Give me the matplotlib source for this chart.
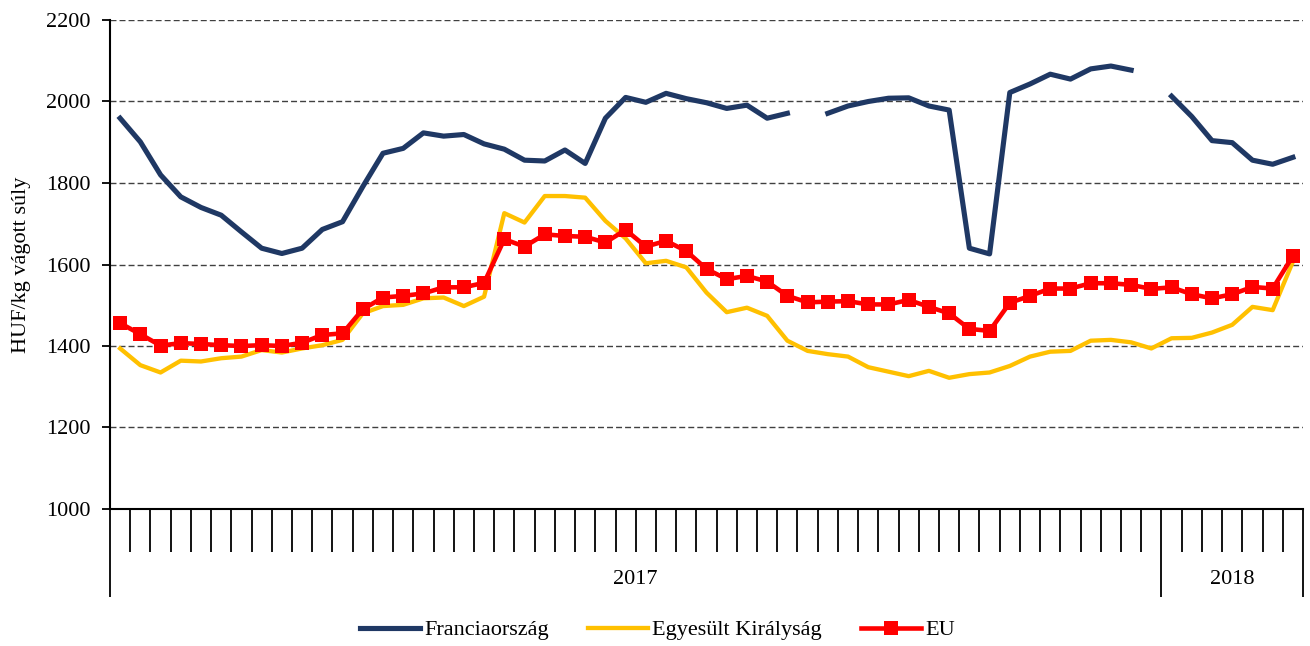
import numpy as np
import matplotlib
matplotlib.use("Agg")
import matplotlib.pyplot as plt
from matplotlib.lines import Line2D

plt.rcParams['font.family'] = ['Liberation Serif', 'DejaVu Serif']

# ---- data ----
years = ["2017"] * 52 + ["2018"] * 7
weeks = list(range(1, 53)) + list(range(1, 8))

france = [1959, 1901, 1820, 1766, 1740, 1721, 1680, 1640, 1627, 1640,
          1686, 1705, 1791, 1873, 1885, 1923, 1915, 1919, 1896, 1883,
          1856, 1854, 1881, 1848, 1959, 2010, 1998, 2020, 2007, 1997,
          1983, 1991, 1959, 1971, None, 1971, 1989, 2000, 2008, 2009,
          1989, 1979, 1640, 1626, 2022, 2043, 2067, 2055, 2080, 2087,
          2077, None, 2013, 1963, 1904, 1899, 1856, 1846, 1863]
uk = [1394, 1353, 1335, 1364, 1362, 1370, 1374, 1390, 1384, 1394,
      1402, 1415, 1480, 1498, 1501, 1517, 1519, 1498, 1521, 1726,
      1703, 1768, 1768, 1764, 1707, 1664, 1603, 1609, 1593, 1531,
      1483, 1494, 1474, 1413, 1388, 1380, 1374, 1348, 1337, 1326,
      1339, 1322, 1331, 1335, 1351, 1374, 1386, 1388, 1413, 1415,
      1409, 1394, 1419, 1420, 1433, 1452, 1496, 1488, 1607]
eu = [1456, 1429, 1401, 1407, 1405, 1402, 1400, 1402, 1400, 1408,
      1427, 1431, 1490, 1519, 1523, 1529, 1544, 1544, 1555, 1662,
      1644, 1674, 1670, 1668, 1654, 1685, 1644, 1658, 1633, 1589,
      1564, 1572, 1558, 1523, 1507, 1509, 1510, 1502, 1502, 1513,
      1496, 1480, 1442, 1437, 1506, 1523, 1541, 1541, 1554, 1554,
      1550, 1540, 1544, 1527, 1517, 1527, 1545, 1541, 1621]

series_names = ["Franciaország", "Egyesült Királyság", "EU"]
y_ticks = [1000, 1200, 1400, 1600, 1800, 2000, 2200]
y_label = "HUF/kg vágott súly"

# ---- figure ----
W, H = 1310, 646
FS = 16
fig = plt.figure(figsize=(W / 100, H / 100), dpi=100)
ax = fig.add_axes([110 / W, 1 - 509 / H, (1303 - 110) / W, (509 - 20) / H])

n = len(years)
x = np.arange(n)
fr = np.array([np.nan if v is None else v for v in france], dtype=float)

navy = "#1F3864"
gold = "#FFC000"
red = "#FF0000"

LW_FR, LW_UK, LW_EU, MS = 3.7, 3.1, 3.3, 10.5

ax.plot(x, fr, color=navy, lw=LW_FR, solid_joinstyle='round', zorder=3)
ax.plot(x, uk, color=gold, lw=LW_UK, solid_joinstyle='round', zorder=4)
ax.plot(x, eu, color=red, lw=LW_EU, marker='s', markersize=MS,
        markeredgewidth=0, zorder=5)

ax.set_xlim(-0.5, n - 0.5)
ax.set_ylim(1000, 2200)
ax.set_yticks(y_ticks)
ax.tick_params(axis='y', direction='out', length=6, width=1.3, pad=8,
               labelsize=FS, colors='black')
ax.yaxis.grid(True, color='#404040', linestyle=(0, (4.3, 2.2)), linewidth=1.0)
ax.set_axisbelow(True)

# category separators and year boundaries
bounds = [-0.5]
for i in range(1, n):
    if years[i] != years[i - 1]:
        bounds.append(i - 0.5)
bounds.append(n - 0.5)
ax.set_xticks(bounds)
ax.set_xticklabels([''] * len(bounds))
ax.set_xticks(np.arange(-0.5, n, 1.0), minor=True)
ax.tick_params(axis='x', which='major', direction='out', length=63.4, width=1.3, colors='black')
ax.tick_params(axis='x', which='minor', direction='out', length=31, width=1.3, colors='black')

# year labels
for a, b in zip(bounds[:-1], bounds[1:]):
    yr = years[int(a + 0.5)]
    ax.text((a + b) / 2, -(580 - 509) / (509 - 20), yr,
            transform=ax.get_xaxis_transform(), ha='center', va='center',
            fontsize=FS)

for s in ['top', 'right']:
    ax.spines[s].set_visible(False)
for s in ['left', 'bottom']:
    ax.spines[s].set_linewidth(1.5)
    ax.spines[s].set_color('black')

fig.text(22 / W, 1 - 265 / H, y_label, rotation=90, ha='center', va='center',
         fontsize=FS)

handles = [Line2D([], [], color=navy, lw=LW_FR),
           Line2D([], [], color=gold, lw=LW_UK),
           Line2D([], [], color=red, lw=LW_EU, marker='s', markersize=MS,
                  markeredgewidth=0)]
fig.legend(handles, series_names, loc='center', bbox_to_anchor=(0.502, 1 - 630 / H),
           ncol=3, frameon=False, handlelength=2.7, handletextpad=0.2,
           columnspacing=1.75, numpoints=1, prop={'size': FS})

fig.savefig("out.png", dpi=100)
